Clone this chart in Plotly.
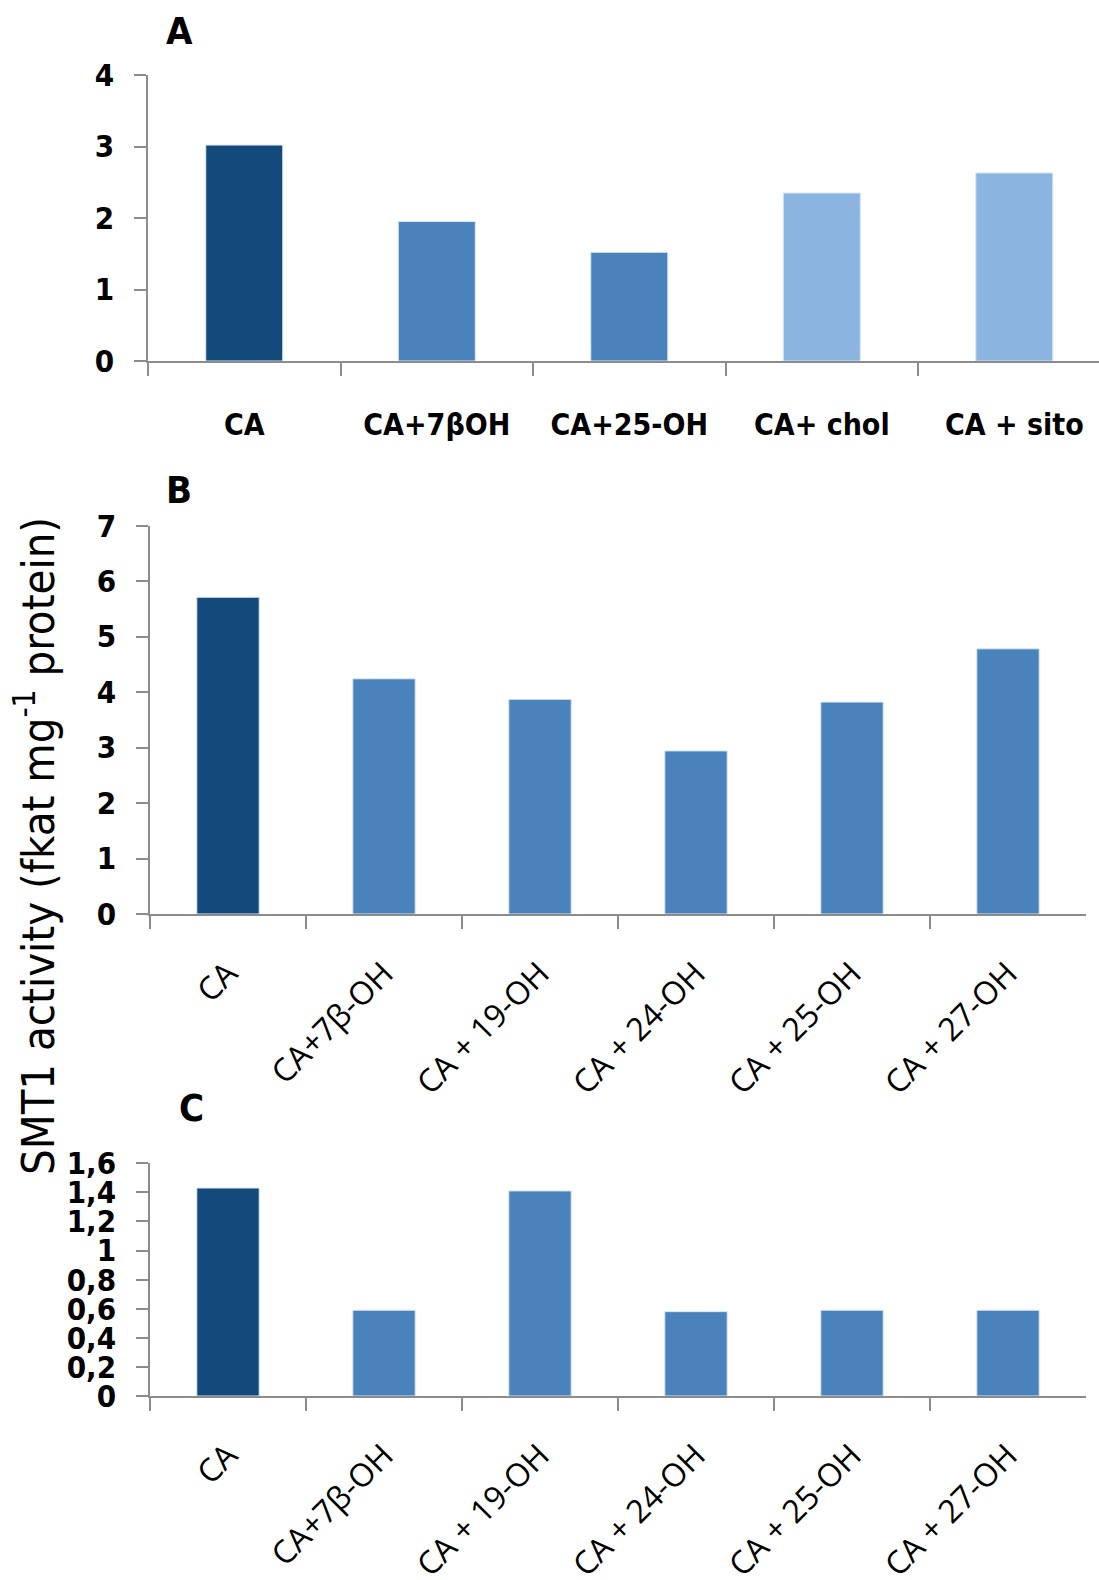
import plotly.graph_objects as go

# ---- data -------------------------------------------------------------
cats_a = ["CA", "CA+7βOH", "CA+25-OH", "CA+ chol", "CA + sito"]
vals_a = [3.02, 1.95, 1.52, 2.35, 2.63]

cats_b = ["CA", "CA+7β-OH", "CA + 19-OH", "CA + 24-OH", "CA + 25-OH", "CA + 27-OH"]
vals_b = [5.71, 4.24, 3.87, 2.94, 3.82, 4.78]

cats_c = ["CA", "CA+7β-OH", "CA + 19-OH", "CA + 24-OH", "CA + 25-OH", "CA + 27-OH"]
vals_c = [1.43, 0.59, 1.41, 0.58, 0.59, 0.59]

ticks_c = [0, 0.2, 0.4, 0.6, 0.8, 1.0, 1.2, 1.4, 1.6]
ticktext_c = ["0", "0,2", "0,4", "0,6", "0,8", "1", "1,2", "1,4", "1,6"]

# ---- styling ----------------------------------------------------------
DARK = "#134A7B"
MID = "#4A82BC"
LIGHT = "#8CB4E0"
AXIS = "#8C8C8C"

colors_a = [DARK, MID, MID, LIGHT, LIGHT]
colors_b = [DARK] + [MID] * 5
colors_c = [DARK] + [MID] * 5

W, H = 1099, 1580
BOLD_FAMILY = "DejaVu Sans Condensed, DejaVu Sans, Liberation Sans, sans-serif"
REG_FAMILY = "Open Sans, Noto Sans, sans-serif"


def px_x(x):
    return x / W


def px_y(y):
    return 1 - y / H


fig = go.Figure()

for cats, vals, cols, xa, ya in [
    (cats_a, vals_a, colors_a, "x", "y"),
    (cats_b, vals_b, colors_b, "x2", "y2"),
    (cats_c, vals_c, colors_c, "x3", "y3"),
]:
    fig.add_trace(go.Bar(
        x=cats, y=vals, xaxis=xa, yaxis=ya,
        marker=dict(color=cols, line=dict(color="#DCE6F2", width=1)),
        showlegend=False, hoverinfo="x+y",
    ))

common_x = dict(
    type="category", showline=True, linecolor=AXIS, linewidth=1.5,
    ticks="outside", tickson="boundaries", ticklen=13, tickcolor=AXIS,
    tickwidth=1.5, showgrid=False, zeroline=False, fixedrange=True,
    automargin=False,
)
common_y = dict(
    showline=True, linecolor=AXIS, linewidth=1.5, ticks="outside",
    ticklen=12, tickcolor=AXIS, tickwidth=1.5, showgrid=False,
    zeroline=False, fixedrange=True, automargin=False,
    tickfont=dict(family=BOLD_FAMILY, size=31, color="black", weight="bold"),
)

fig.update_layout(
    width=W, height=H,
    margin=dict(l=0, r=0, t=0, b=0),
    paper_bgcolor="white", plot_bgcolor="white",
    bargap=0.6,
    xaxis=dict(
        common_x, domain=[px_x(148), 1.0], range=[-0.5, 4.44],
        anchor="y",
        tickfont=dict(family=BOLD_FAMILY, size=30, color="black", weight="bold"),
        tickangle=0, ticklabelstandoff=36,
    ),
    yaxis=dict(
        common_y, domain=[px_y(361), px_y(75)], range=[0, 4], dtick=1,
        anchor="x", ticklabelstandoff=14,
    ),
    xaxis2=dict(
        common_x, domain=[px_x(150), px_x(1086)], range=[-0.5, 5.5],
        anchor="y2",
        tickfont=dict(family=REG_FAMILY, size=32, color="black"),
        tickangle=-45, ticklabelstandoff=26,
    ),
    yaxis2=dict(
        common_y, domain=[px_y(914), px_y(525.7)], range=[0, 7], dtick=1,
        anchor="x2", ticklabelstandoff=14,
    ),
    xaxis3=dict(
        common_x, domain=[px_x(150), px_x(1086)], range=[-0.5, 5.5],
        anchor="y3",
        tickfont=dict(family=REG_FAMILY, size=32, color="black"),
        tickangle=-45, ticklabelstandoff=26,
    ),
    yaxis3=dict(
        common_y, domain=[px_y(1396), px_y(1163.3)], range=[0, 1.6],
        tickmode="array", tickvals=ticks_c, ticktext=ticktext_c,
        anchor="x3", ticklabelstandoff=14,
    ),
)

# panel letters
for letter, x, y in [("A", 179, 31), ("B", 179, 490), ("C", 191, 1108)]:
    fig.add_annotation(
        text=letter, xref="paper", yref="paper", x=px_x(x), y=px_y(y),
        xanchor="center", yanchor="middle", showarrow=False,
        font=dict(family=BOLD_FAMILY, size=38, color="black", weight="bold"),
    )

# shared y-axis title
fig.add_annotation(
    text="SMT1 activity (fkat mg<sup>-1</sup> protein)",
    xref="paper", yref="paper", x=px_x(35), y=px_y(846),
    xanchor="center", yanchor="middle", textangle=-90, showarrow=False,
    font=dict(family="DejaVu Sans Condensed, DejaVu Sans, sans-serif",
              size=45, color="black"),
)

fig.write_html("out.html", config={"displayModeBar": False})
